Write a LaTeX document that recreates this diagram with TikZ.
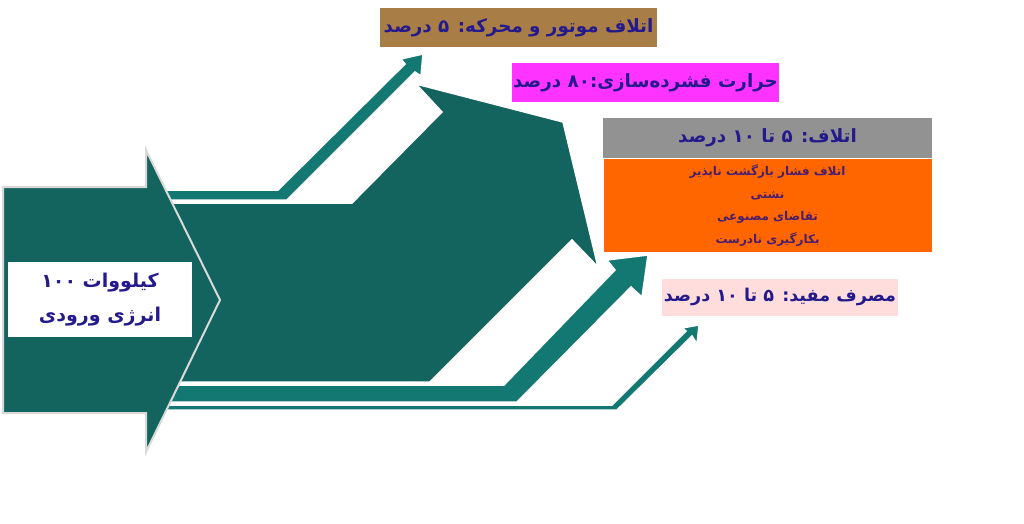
\documentclass[tikz,border=0pt]{standalone}
\usepackage{fontspec}
\newfontfamily\fafont[Script=Arabic]{DejaVu Sans}
\TeXXeTstate=1
\usetikzlibrary{
	positioning
}
\definecolor{flowdark}{RGB}{19,100,94}
\definecolor{flowlight}{RGB}{19,120,114}
\definecolor{navytext}{RGB}{36,26,140}
\definecolor{purpletext}{RGB}{72,30,110}
\definecolor{motorbrown}{RGB}{168,125,70}
\definecolor{heatpink}{RGB}{255,51,255}
\definecolor{lossgray}{RGB}{146,146,146}
\definecolor{lossorange}{RGB}{255,102,0}
\definecolor{usefulpink}{RGB}{255,221,221}
\tikzset{
	flow/.style={
		fill=flowlight
		,draw=white
		,line width=1.5pt
		,line join=miter
	},
	main flow/.style={
		flow
		,fill=flowdark
	},
	input arrow/.style={
		fill=flowdark
		,draw=gray!30
		,line width=2pt
	},
	label box/.style={
		inner sep=0pt
		,text=navytext
		,font=\fafont\bfseries\fontsize{18.3}{22}\selectfont
	}
}

\begin{document}
\begin{tikzpicture}[x=1pt, y=-1pt]
\useasboundingbox (0,0) rectangle (1024,524);

% flows
\draw[flow] (140,190) -- (278,190) -- (405,64) -- (401,59) -- (423,54)
	-- (421,76) -- (415,72) -- (287,200) -- (140,200) -- cycle;
\draw[main flow] (140,203) -- (352,203) -- (442,112) -- (416,84) -- (563,122)
	-- (598,267) -- (572,240) -- (430,382) -- (140,382) -- cycle;
\draw[flow] (140,385) -- (504,385) -- (615,270) -- (607,260) -- (648,255)
	-- (642,297) -- (631,287) -- (517,402) -- (140,402) -- cycle;
\draw[flow] (140,405) -- (612,405) -- (686,331) -- (682,328) -- (699,325)
	-- (697,344) -- (692,336) -- (617,410) -- (140,410) -- cycle;

% input
\draw[input arrow] (3,187) -- (146,187) -- (146,150) -- (220,300)
	-- (146,452) -- (146,413) -- (3,413) -- cycle;

\begin{scope}[every node/.append style={label box}]
\node[fill=white, minimum width=184pt, minimum height=75pt, align=center,
	font=\fafont\bfseries\fontsize{19}{22}\selectfont] (input) at (100,299.5)
	{\beginR کیلووات ۱۰۰\endR\\[12pt]\beginR انرژی ورودی\endR};
\node[fill=motorbrown, minimum width=277pt, minimum height=39pt] (motor) at (518.5,27.5)
	{\beginR اتلاف موتور و محرکه: ۵ درصد\endR};
\node[fill=heatpink, minimum width=267pt, minimum height=39pt] (heat) at (645.5,82.5)
	{\beginR حرارت فشرده‌سازی:۸۰ درصد\endR};
\node[fill=lossgray, minimum width=329pt, minimum height=40pt] (loss) at (767.5,138)
	{\beginR اتلاف: ۵ تا ۱۰ درصد\endR};
\node[fill=lossorange, draw=white, line width=1pt, minimum width=329pt, minimum height=94pt,
	align=center, text=purpletext, font=\fafont\bfseries\fontsize{12}{22.5}\selectfont,
	below=0pt of loss] (causes)
	{\beginR اتلاف فشار بازگشت ناپذیر\endR\\\beginR نشتی\endR\\
	 \beginR تقاضای مصنوعی\endR\\\beginR بکارگیری نادرست\endR};
\node[fill=usefulpink, minimum width=236pt, minimum height=37pt,
	font=\fafont\bfseries\fontsize{17.6}{22}\selectfont] (useful) at (780,297)
	{\beginR مصرف مفید: ۵ تا ۱۰ درصد\endR};
\end{scope}
\end{tikzpicture}
\end{document}
